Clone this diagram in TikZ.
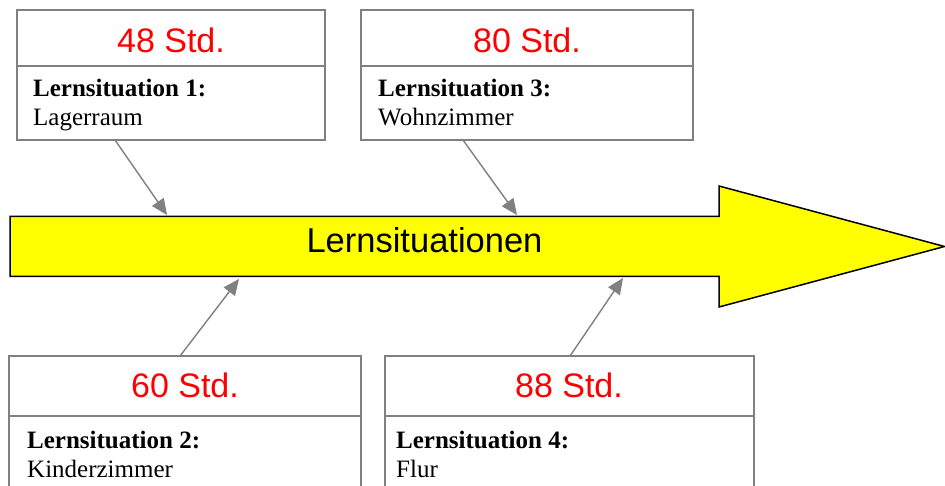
\documentclass[tikz,border=0pt]{standalone}
\usepackage{fontspec}
\setmainfont{Liberation Serif}
\newfontfamily\arialf{Liberation Sans}
\usetikzlibrary{arrows.meta,calc}
\definecolor{boxgray}{HTML}{808080}
\definecolor{hourred}{HTML}{FF0000}
\definecolor{arrowyellow}{HTML}{FFFF00}
\begin{document}
\begin{tikzpicture}[x=1pt,y=-1pt,
  box/.style={draw=boxgray, line width=1.3pt, anchor=north west, inner sep=0pt, outer sep=0pt},
  divider/.style={draw=boxgray, line width=1.3pt},
  hours/.style={anchor=base, inner sep=0pt, text=hourred, font=\arialf\fontsize{34}{40}\selectfont},
  lstitle/.style={anchor=base west, inner sep=0pt, font=\fontsize{25}{29}\selectfont\bfseries},
  lsbody/.style={anchor=base west, inner sep=0pt, font=\fontsize{25}{29}\selectfont},
  bigarrow/.style={draw=black, line width=1.5pt, fill=arrowyellow, line join=miter},
  arrowlabel/.style={anchor=base, inner sep=0pt, font=\arialf\fontsize{34.5}{40}\selectfont},
  link/.style={draw=boxgray, line width=1.4pt, -{Triangle[length=16pt,width=14pt]}}
]
\useasboundingbox (0,0) rectangle (945,486);
\clip (0,0) rectangle (945,486);
\fill[white] (0,0) rectangle (945,486);

% big arrow
\draw[bigarrow] (10,216.5) -- (719,216.5) -- (719,186) -- (944.5,246.5) -- (719,307) -- (719,276.5) -- (10,276.5) -- cycle;
\node[arrowlabel] (lab) at (424.5,253) {Lernsituationen};
\coordinate (atop1) at (167,215);
\coordinate (atop3) at (517,215);
\coordinate (abot2) at (239,279);
\coordinate (abot4) at (623,278);

% box 1
\node[box, minimum width=308pt, minimum height=130pt] (b1) at (17,10) {};
\draw[divider] ($(b1.north west)+(0,56)$) -- ($(b1.north east)+(0,56)$);
\node[hours] (h1) at (171,53) {48 Std.};
\node[lstitle] (t1) at (33,97) {Lernsituation 1:};
\node[lsbody] (d1) at (33,126) {Lagerraum};

% box 3
\node[box, minimum width=332pt, minimum height=130pt] (b3) at (361,10) {};
\draw[divider] ($(b3.north west)+(0,56)$) -- ($(b3.north east)+(0,56)$);
\node[hours] (h3) at (527,53) {80 Std.};
\node[lstitle] (t3) at (378,97) {Lernsituation 3:};
\node[lsbody] (d3) at (378,126) {Wohnzimmer};

% box 2
\node[box, minimum width=352pt, minimum height=150pt] (b2) at (9,356) {};
\draw[divider] ($(b2.north west)+(0,60)$) -- ($(b2.north east)+(0,60)$);
\node[hours] (h2) at (185,397) {60 Std.};
\node[lstitle] (t2) at (27,448) {Lernsituation 2:};
\node[lsbody] (d2) at (27,477) {Kinderzimmer};

% box 4
\node[box, minimum width=369pt, minimum height=150pt] (b4) at (385,356) {};
\draw[divider] ($(b4.north west)+(0,60)$) -- ($(b4.north east)+(0,60)$);
\node[hours] (h4) at (569,397) {88 Std.};
\node[lstitle] (t4) at (396,448) {Lernsituation 4:};
\node[lsbody] (d4) at (396,477) {Flur};

% connectors
\draw[link] ($(b1.south west)+(98,0)$) -- (atop1);
\draw[link] ($(b3.south west)+(102,0)$) -- (atop3);
\draw[link] ($(b2.north west)+(171,0)$) -- (abot2);
\draw[link] ($(b4.north west)+(185,0)$) -- (abot4);
\end{tikzpicture}
\end{document}
